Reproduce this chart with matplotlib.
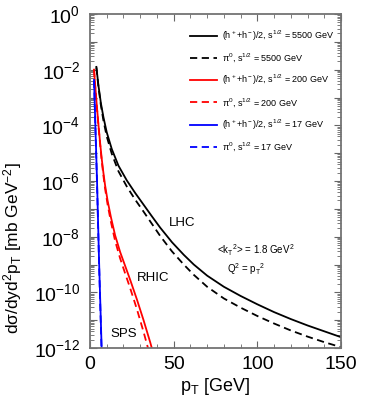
import numpy as np
import matplotlib.pyplot as plt
from matplotlib.ticker import LogLocator, NullFormatter

plt.rcParams.update({
    'font.family': ['Liberation Sans', 'DejaVu Sans'],
    'mathtext.fontset': 'custom',
    'mathtext.rm': 'Liberation Sans',
    'mathtext.it': 'Liberation Sans',
    'mathtext.default': 'regular',
    'font.size': 10,
})

# ── Data (pT in GeV, log10 of cross section) ───────────────────────────
lhc_pt = [3.8, 5, 6.5, 8, 10, 13, 17, 22, 27, 32, 37, 42, 49, 56, 62, 70,
          80, 90, 100, 110, 120, 130, 140, 150]
lhc_h = [-1.9, -2.55, -3.2, -3.7, -4.25, -4.85, -5.45, -5.98, -6.43, -6.85,
         -7.27, -7.68, -8.2, -8.65, -9.0, -9.4, -9.8, -10.13, -10.43, -10.71,
         -10.96, -11.19, -11.4, -11.61]
lhc_pi = [-1.92, -2.6, -3.28, -3.82, -4.4, -5.02, -5.65, -6.2, -6.67, -7.1,
          -7.54, -7.98, -8.53, -9.0, -9.37, -9.8, -10.22, -10.55, -10.85,
          -11.12, -11.37, -11.59, -11.79, -11.97]

rhic_pt = [2.4, 3, 4, 5, 6, 7, 8, 9, 10.5, 12.5, 15, 18, 21, 24, 28, 32, 36,
           39]
rhic_h = [-2.0, -2.5, -3.25, -3.95, -4.6, -5.2, -5.7, -6.15, -6.7, -7.3,
          -7.95, -8.55, -9.05, -9.55, -10.25, -11.0, -11.8, -12.45]
rhic_pi = [-2.0, -2.52, -3.28, -3.99, -4.66, -5.28, -5.8, -6.27, -6.84,
           -7.47, -8.15, -8.78, -9.32, -9.85, -10.6, -11.42, -12.3, -12.9]

sps_pt = [2.4, 3.2, 4.2, 5.4, 7.0, 7.3]
sps_h = [-2.37, -4.0, -6.0, -8.85, -12.1, -12.7]
sps_pi = [-2.4, -4.05, -6.1, -8.95, -12.3, -12.9]

labels = [r'(h$^+$+h$^-$)/2, s$^{1/2}$ = 5500 GeV',
          r'$\pi^0$, s$^{1/2}$ = 5500 GeV',
          r'(h$^+$+h$^-$)/2, s$^{1/2}$ = 200 GeV',
          r'$\pi^0$, s$^{1/2}$ = 200 GeV',
          r'(h$^+$+h$^-$)/2, s$^{1/2}$ = 17 GeV',
          r'$\pi^0$, s$^{1/2}$ = 17 GeV']

fig = plt.figure(figsize=(3.65, 4.0), dpi=100)
ax = fig.add_axes([0.2466, 0.13, 0.6876, 0.835])

sets = [(lhc_pt, lhc_h, lhc_pi, 'black'),
        (rhic_pt, rhic_h, rhic_pi, 'red'),
        (sps_pt, sps_h, sps_pi, 'blue')]
handles = []
for pt, h, pi, c in sets:
    l1, = ax.plot(pt, 10.0 ** np.array(h), '-', color=c, lw=1.3)
    l2, = ax.plot(pt, 10.0 ** np.array(pi), '--', color=c, lw=1.3,
                  dashes=(4, 2.5))
    handles += [l1, l2]

ax.set_yscale('log')
ax.set_xlim(0, 150)
ax.set_ylim(1e-12, 1)
ax.set_xticks([0, 50, 100, 150])
ax.set_xticks(np.arange(0, 151, 10), minor=True)
ax.set_yticks([10.0 ** k for k in range(-12, 1)])
ax.set_yticklabels([r'$10^{%d}$' % k if k % 2 == 0 else '' for k in range(-12, 1)])
ax.yaxis.set_minor_locator(LogLocator(base=10, subs=np.arange(2, 10), numticks=100))
ax.yaxis.set_minor_formatter(NullFormatter())
ax.tick_params(which='both', direction='in', top=True, right=True,
               color='0.4', labelsize=14)
ax.tick_params(which='major', length=5, width=0.8)
ax.tick_params(which='minor', length=3, width=0.6)
ax.tick_params(axis='y', pad=7)
ax.tick_params(axis='x', pad=6)
for s in ax.spines.values():
    s.set_color('0.45')
    s.set_linewidth(1.3)

ax.set_xlabel(r'p$_T$ [GeV]', fontsize=13, labelpad=2)
ax.set_ylabel(r'd$\sigma$/dyd$^2$p$_T$ [mb GeV$^{-2}$]', fontsize=12.5)
ax.yaxis.set_label_coords(-0.265, 0.30)

ax.text(55, 10 ** -7.5, 'LHC', fontsize=9.5, ha='center', va='center')
ax.text(37.5, 10 ** -9.5, 'RHIC', fontsize=9.5, ha='center', va='center')
ax.text(20, 10 ** -11.5, 'SPS', fontsize=9.5, ha='center', va='center')
ax.text(99, 10 ** -8.5, r'<k$_T$$^2$> = 1.8 GeV$^2$', fontsize=7,
        ha='center', va='center')
ax.text(82, 10 ** -9.15, r'Q$^2$ = p$_T$$^2$', fontsize=7,
        ha='left', va='center')

ax.legend(handles, labels, loc='upper right', bbox_to_anchor=(1.0, 0.975),
          frameon=False, fontsize=6.5, handlelength=3.0, labelspacing=0.95,
          handletextpad=0.6, borderaxespad=0.3)

fig.savefig('out.png', dpi=100)
